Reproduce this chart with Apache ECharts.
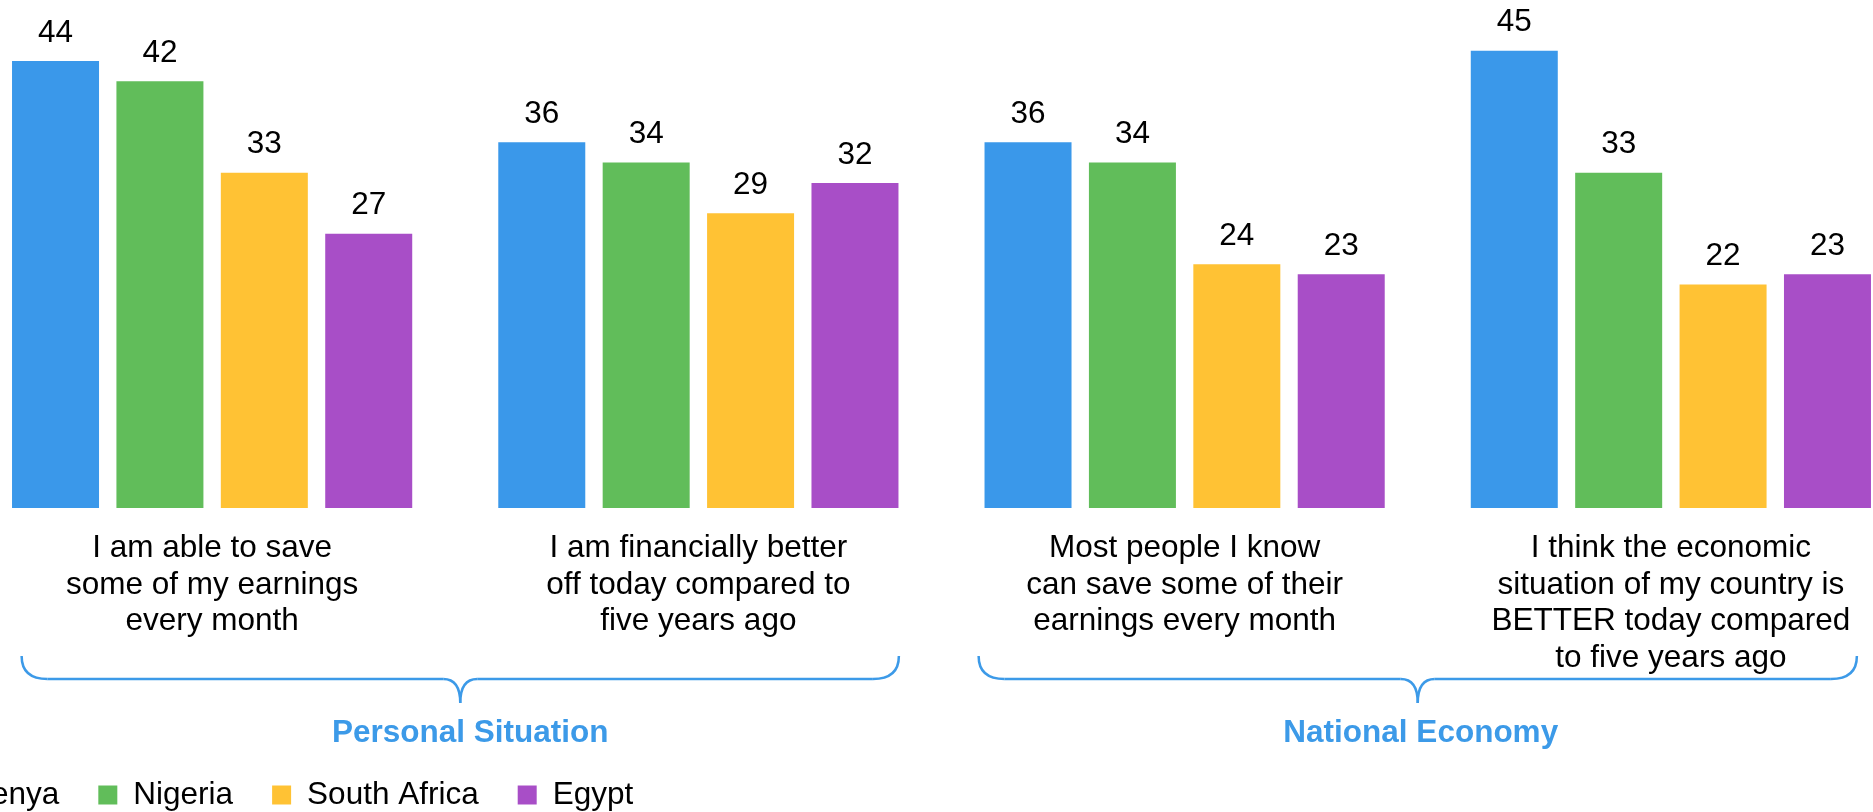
<!DOCTYPE html>
<html>
<head>
<meta charset="utf-8">
<script src="https://cdn.jsdelivr.net/npm/echarts@6/dist/echarts.min.js"></script>
<style>
    html, body {margin: 0; padding: 0; background: #fff;}
    #main {width: 1873px; height: 812px;}
</style>
</head>
<body>
<div id="main"></div>
<script>
// data
const categories = [
    'I am able to save\nsome of my earnings\nevery month',
    'I am financially better\noff today compared to\nfive years ago',
    'Most people I know\ncan save some of their\nearnings every month',
    'I think the economic\nsituation of my country is\nBETTER today compared\nto five years ago'
];
const countries = ['Kenya', 'Nigeria', 'South Africa', 'Egypt'];
const kenya = [44, 36, 36, 45];
const nigeria = [42, 34, 34, 33];
const southAfrica = [33, 29, 24, 22];
const egypt = [27, 32, 23, 23];
const groupTitles = ['Personal Situation', 'National Economy'];

const colors = ['#3A98EA', '#61BD5A', '#FFC234', '#A84EC7'];
const FONT = 'Liberation Sans, Arial, sans-serif';
const BRACE_BLUE = '#3C9AE8';

const chartContainer = document.getElementById('main');
const myChart = echarts.init(chartContainer);

const seriesValues = [kenya, nigeria, southAfrica, egypt];

let option = {
    animation: false,
    color: colors,
    grid: {left: -31, right: -41, top: 0, bottom: 304, containLabel: false, outerBoundsMode: 'none'},
    legend: {
        left: -65,
        top: 779,
        padding: 0,
        itemWidth: 19,
        itemHeight: 19,
        itemGap: 39,
        icon: 'rect',
        data: countries,
        textStyle: {fontSize: 31.5, fontFamily: FONT, color: '#000', padding: [0, 0, 0, 11]}
    },
    xAxis: {
        type: 'category',
        data: categories,
        axisLine: {show: false},
        axisTick: {show: false},
        axisLabel: {
            interval: 0,
            margin: 22,
            fontSize: 31.5,
            lineHeight: 36.7,
            fontFamily: FONT,
            color: '#000',
            align: 'center',
            hideOverlap: false
        }
    },
    yAxis: {type: 'value', min: 0, max: 50, show: false},
    series: countries.map((name, i) => ({
        name: name,
        type: 'bar',
        data: seriesValues[i],
        barWidth: 87,
        barGap: '20%',
        label: {
            show: true,
            position: 'top',
            distance: 12,
            fontSize: 31.5,
            fontFamily: FONT,
            color: '#000'
        }
    }))
};
myChart.setOption(option);

// braces + group titles, placed from the category centres
const cx = idx => myChart.convertToPixel({xAxisIndex: 0}, idx);
const yTop = 656, yMid = 679, yTip = 703;
const braceStyle = {stroke: BRACE_BLUE, fill: null, lineWidth: 2.5};

function braceParts(x0, x1) {
    const m = (x0 + x1) / 2, r = 26, rm = 17;
    const curve = (a, b, c, d, e, f) => ({
        type: 'bezierCurve',
        shape: {x1: a, y1: b, cpx1: c, cpy1: d, x2: e, y2: f},
        style: braceStyle
    });
    const line = (a, b, c, d) => ({
        type: 'line',
        shape: {x1: a, y1: b, x2: c, y2: d},
        style: braceStyle
    });
    return [
        curve(x0, yTop, x0, yMid, x0 + r, yMid),
        line(x0 + r, yMid, m - rm, yMid),
        curve(m - rm, yMid, m, yMid, m, yTip),
        curve(m, yTip, m, yMid, m + rm, yMid),
        line(m + rm, yMid, x1 - r, yMid),
        curve(x1 - r, yMid, x1, yMid, x1, yTop)
    ];
}

const braces = [
    {x0: cx(0) - 190.5, x1: cx(1) + 200.5, dx: 10},
    {x0: cx(2) - 206, x1: cx(3) + 186, dx: 3}
];

let graphic = [];
braces.forEach((b, i) => {
    graphic = graphic.concat(braceParts(b.x0, b.x1));
    graphic.push({
        type: 'text',
        x: (b.x0 + b.x1) / 2 + b.dx,
        y: 733,
        style: {
            text: groupTitles[i],
            fontSize: 31.5,
            fontWeight: 'bold',
            fontFamily: FONT,
            fill: BRACE_BLUE,
            align: 'center',
            verticalAlign: 'middle'
        }
    });
});
myChart.setOption({graphic: graphic});

window.addEventListener('resize', function () {
    myChart.resize();
});
</script>
</body>
</html>
